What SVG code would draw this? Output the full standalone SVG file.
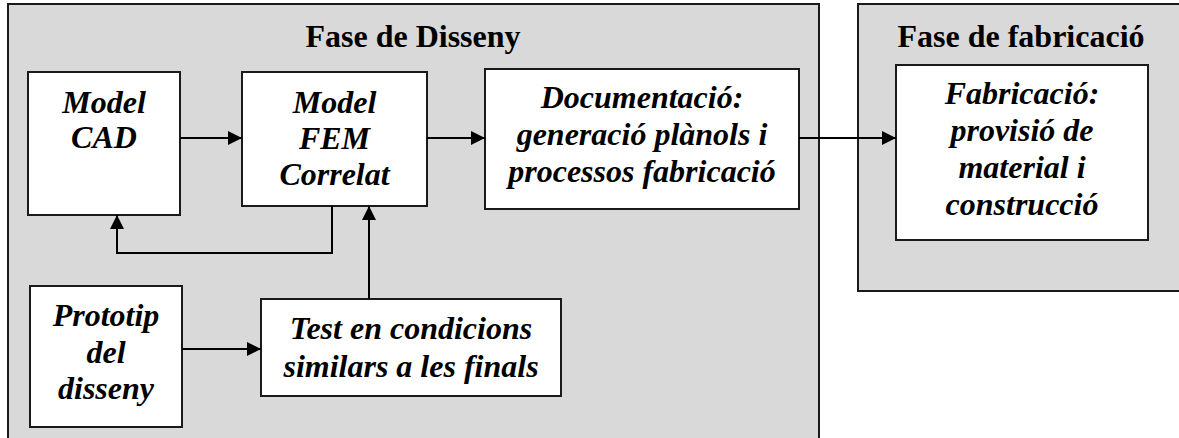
<svg xmlns="http://www.w3.org/2000/svg" width="1179" height="438" viewBox="0 0 1179 438">
<defs>
<marker id="ah" markerUnits="userSpaceOnUse" markerWidth="14" markerHeight="14" refX="14" refY="7" orient="auto">
<path d="M0,0 L14,7 L0,14 z" fill="#000"/>
</marker>
<style>
.phase{fill:#d9d9d9;stroke:#1a1a1a;stroke-width:2}
.box{fill:#fff;stroke:#1a1a1a;stroke-width:2}
.title{font-family:"Liberation Serif","Times New Roman",serif;font-weight:bold;font-size:32px;fill:#000;text-anchor:middle}
.lbl{font-family:"Liberation Serif","Times New Roman",serif;font-weight:bold;font-style:italic;font-size:32px;fill:#000;text-anchor:middle}
.conn{fill:none;stroke:#000;stroke-width:2}
</style>
</defs>
<rect width="1179" height="438" fill="#fff"/>
<g id="phase-disseny">
<rect class="phase" x="8" y="4" width="811" height="450"/>
<text class="title" x="413" y="47">Fase de Disseny</text>
</g>
<g id="phase-fabricacio">
<rect class="phase" x="858" y="4" width="340" height="287"/>
<text class="title" x="1021" y="47">Fase de fabricació</text>
</g>
<g id="model-cad">
<rect class="box" x="28" y="72" width="152" height="143"/>
<text class="lbl" x="104" y="113">Model</text>
<text class="lbl" x="104" y="148">CAD</text>
</g>
<g id="model-fem">
<rect class="box" x="242" y="72" width="185" height="134"/>
<text class="lbl" x="334.5" y="113">Model</text>
<text class="lbl" x="334.5" y="149">FEM</text>
<text class="lbl" x="334.5" y="185">Correlat</text>
</g>
<g id="documentacio">
<rect class="box" x="485" y="69" width="314" height="140"/>
<text class="lbl" x="642" y="108">Documentació:</text>
<text class="lbl" x="642" y="145">generació plànols i</text>
<text class="lbl" x="642" y="182">processos fabricació</text>
</g>
<g id="fabricacio">
<rect class="box" x="896" y="65" width="252" height="175"/>
<text class="lbl" x="1022" y="104">Fabricació:</text>
<text class="lbl" x="1022" y="141">provisió de</text>
<text class="lbl" x="1022" y="178">material i</text>
<text class="lbl" x="1022" y="215">construcció</text>
</g>
<g id="prototip">
<rect class="box" x="30" y="286" width="152" height="141"/>
<text class="lbl" x="106" y="326">Prototip</text>
<text class="lbl" x="106" y="363">del</text>
<text class="lbl" x="106" y="399">disseny</text>
</g>
<g id="test">
<rect class="box" x="261" y="299" width="300" height="97"/>
<text class="lbl" x="411" y="339">Test en condicions</text>
<text class="lbl" x="411" y="377">similars a les finals</text>
</g>
<g id="connectors">
<line class="conn" x1="180" y1="138" x2="242" y2="138" marker-end="url(#ah)"/>
<line class="conn" x1="427" y1="138" x2="485" y2="138" marker-end="url(#ah)"/>
<line class="conn" x1="799" y1="138" x2="896" y2="138" marker-end="url(#ah)"/>
<polyline class="conn" points="332,206 332,253 117,253 117,215" marker-end="url(#ah)"/>
<line class="conn" x1="369" y1="299" x2="369" y2="206" marker-end="url(#ah)"/>
<line class="conn" x1="182" y1="349" x2="261" y2="349" marker-end="url(#ah)"/>
</g>
</svg>
